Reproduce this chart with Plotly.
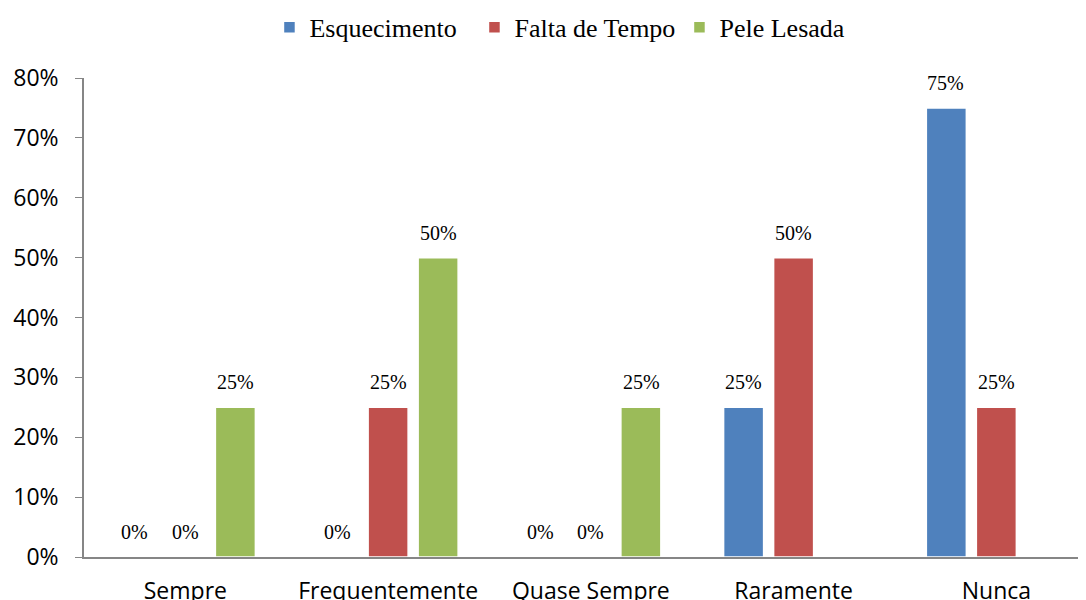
import plotly.graph_objects as go

categories = ["Sempre", "Frequentemente", "Quase Sempre", "Raramente", "Nunca"]
esquecimento = [0.0, 0.0, 0.0, 0.25, 0.75]
falta_de_tempo = [0.0, 0.25, 0.0, 0.50, 0.25]
pele_lesada = [0.25, 0.50, 0.25, None, None]

series = [
    ("Esquecimento", esquecimento, "#4F81BD"),
    ("Falta de Tempo", falta_de_tempo, "#C0504D"),
    ("Pele Lesada", pele_lesada, "#9BBB59"),
]

fig = go.Figure()
annotations = []
for k, (name, values, color) in enumerate(series):
    fig.add_trace(go.Bar(
        x=categories, y=values, name=name,
        marker=dict(color=color, line=dict(color="white", width=1.5)),
    ))
    # data labels sit well above each bar (Excel style)
    for cat, v in zip(categories, values):
        if v is None:
            continue
        annotations.append(dict(
            x=cat, y=v, text=f"{v:.0%}", showarrow=False,
            xshift=(k - 1) * 50.5, yshift=25, yanchor="middle",
            font=dict(family="Liberation Serif, Times New Roman, serif", size=20, color="black"),
        ))

fig.update_layout(
    width=1086, height=600,
    margin=dict(l=76, r=6, t=70, b=51, autoexpand=False),
    plot_bgcolor="white", paper_bgcolor="white",
    barmode="group", bargap=0.26, bargroupgap=0.2,
    annotations=annotations,
    legend=dict(
        orientation="h", x=0.491, xanchor="center", y=1.106, yanchor="middle",
        font=dict(family="Liberation Serif, Times New Roman, serif", size=26, color="black"),
        itemwidth=30, entrywidth=160, tracegroupgap=0,
    ),
    font=dict(family="Open Sans, sans-serif", color="black"),
)
fig.update_yaxes(
    range=[0, 0.8], dtick=0.1, tickformat=".0%", showgrid=False, zeroline=False,
    showline=True, linecolor="#868686", linewidth=1.5,
    ticks="outside", ticklen=7, tickcolor="#868686", ticklabelstandoff=12,
    tickfont=dict(family="Open Sans, sans-serif", size=23, color="black"),
    automargin=False,
)
fig.update_xaxes(
    range=[-0.5, 4.452], showgrid=False, showline=True, linecolor="#868686", linewidth=1.5,
    ticks="", ticklabelstandoff=13,
    tickfont=dict(family="Open Sans, sans-serif", size=23, color="black"),
    automargin=False,
)

fig.write_html("out.html")
